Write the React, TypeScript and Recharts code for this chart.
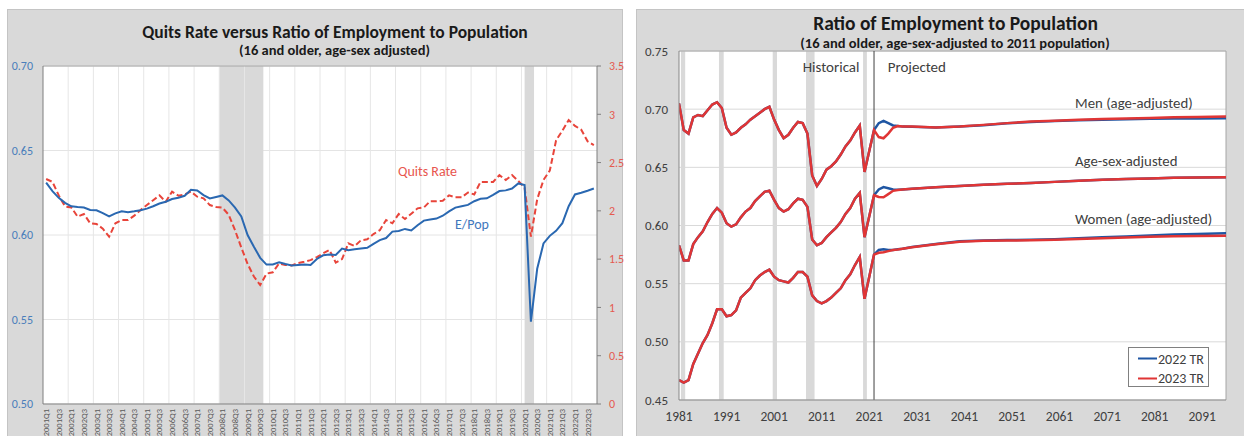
import React from 'react';
import { LineChart, Line, XAxis, YAxis, CartesianGrid, ReferenceArea, ReferenceLine } from 'recharts';

const FONT = 'Carlito, Calibri, Lato, sans-serif';

// ---- left chart: quarterly, 2001Q1..2022Q4
const quarters: string[] = [];
for (let y = 2001; y <= 2022; y++) for (let q = 1; q <= 4; q++) quarters.push(`${y}Q${q}`);

const ePop = [
  0.631, 0.626, 0.622, 0.619, 0.617, 0.6166, 0.6163, 0.6148, 0.6146, 0.613,
  0.611, 0.6128, 0.614, 0.6135, 0.614, 0.6147, 0.6156, 0.617, 0.6186, 0.6197,
  0.6213, 0.622, 0.6232, 0.6267, 0.6263, 0.6236, 0.6216, 0.6225, 0.6234, 0.6205,
  0.6162, 0.611, 0.6, 0.593, 0.5865, 0.5825, 0.5826, 0.5838, 0.5828, 0.582,
  0.5823, 0.5825, 0.5822, 0.5858, 0.588, 0.5885, 0.5882, 0.592, 0.591, 0.5915,
  0.592, 0.5924, 0.5948, 0.597, 0.5982, 0.602, 0.6024, 0.6036, 0.6027, 0.6058,
  0.6085, 0.6092, 0.6097, 0.6114, 0.614, 0.6162, 0.617, 0.6178, 0.62, 0.6214,
  0.6217, 0.6237, 0.626, 0.6264, 0.6275, 0.6305, 0.6295, 0.5487, 0.58, 0.595,
  0.5995, 0.6025, 0.607, 0.617, 0.624, 0.625, 0.6262, 0.6275,
];

const quitsRate = [
  2.33, 2.3, 2.16, 2.045, 2.035, 1.94, 1.967, 1.871, 1.865, 1.815,
  1.733, 1.871, 1.905, 1.905, 1.95, 2.009, 2.06, 2.11, 2.16, 2.095,
  2.199, 2.157, 2.17, 2.199, 2.147, 2.13, 2.06, 2.04, 2.033, 1.96,
  1.8, 1.62, 1.45, 1.32, 1.232, 1.35, 1.364, 1.455, 1.44, 1.435,
  1.46, 1.474, 1.49, 1.52, 1.56, 1.595, 1.465, 1.5, 1.664, 1.636,
  1.695, 1.705, 1.76, 1.8, 1.905, 1.871, 1.967, 1.916, 1.97, 2.026,
  2.035, 2.1, 2.1, 2.105, 2.16, 2.14, 2.14, 2.19, 2.17, 2.3,
  2.3, 2.3, 2.37, 2.32, 2.37, 2.31, 2.24, 1.733, 2.12, 2.32,
  2.416, 2.73, 2.83, 2.94, 2.88, 2.84, 2.72, 2.68,
];

const leftRecessions = [['2008Q1', '2009Q3'], ['2020Q1', '2020Q2']];
const ePopTicks = [0.5, 0.55, 0.6, 0.65, 0.7];
const quitsTicks = [0, 0.5, 1, 1.5, 2, 2.5, 3, 3.5];

const quitsData = quarters.map((q, i) => ({ i, q, ePop: ePop[i], quits: quitsRate[i] }));

// ---- right chart: annual
const histYears: number[] = [];
for (let y = 1981; y <= 2021; y++) histYears.push(y);

const menHist = [
  0.705, 0.682, 0.679, 0.693, 0.695, 0.694, 0.699, 0.704, 0.706, 0.701,
  0.684, 0.678, 0.68, 0.684, 0.687, 0.691, 0.694, 0.697, 0.7, 0.702,
  0.691, 0.682, 0.675, 0.678, 0.684, 0.689, 0.688, 0.679, 0.643, 0.634,
  0.64, 0.648, 0.651, 0.655, 0.661, 0.668, 0.673, 0.68, 0.686, 0.646,
  0.664,
];
const ageSexHist = [
  0.583, 0.57, 0.57, 0.584, 0.59, 0.595, 0.603, 0.61, 0.615, 0.611,
  0.602, 0.599, 0.601, 0.607, 0.612, 0.615, 0.621, 0.625, 0.629, 0.63,
  0.622, 0.615, 0.612, 0.614, 0.619, 0.623, 0.622, 0.616, 0.588, 0.583,
  0.585, 0.59, 0.594, 0.598, 0.603, 0.61, 0.615, 0.623, 0.628, 0.59,
  0.608,
];
const womenHist = [
  0.467, 0.465, 0.467, 0.481, 0.49, 0.499, 0.506, 0.516, 0.528, 0.528,
  0.522, 0.523, 0.527, 0.538, 0.542, 0.546, 0.553, 0.557, 0.56, 0.562,
  0.556, 0.553, 0.552, 0.551, 0.555, 0.56, 0.56, 0.556, 0.54, 0.535,
  0.533, 0.535, 0.538, 0.542, 0.546, 0.553, 0.558, 0.566, 0.573, 0.537,
  0.556,
];

const projYears = [2022, 2023, 2024, 2025, 2026, 2027, 2028, 2030, 2035, 2040, 2045, 2050, 2055, 2060, 2065, 2070, 2075, 2080, 2085, 2090, 2096];
const menTR22 = [0.682, 0.688, 0.69, 0.688, 0.686, 0.6855, 0.685, 0.6848, 0.6842, 0.685, 0.6862, 0.6878, 0.689, 0.6898, 0.6905, 0.691, 0.6913, 0.6917, 0.692, 0.692, 0.6922];
const menTR23 = [0.682, 0.676, 0.675, 0.679, 0.684, 0.6855, 0.6852, 0.685, 0.6842, 0.685, 0.6865, 0.688, 0.6893, 0.69, 0.6908, 0.6915, 0.692, 0.6925, 0.693, 0.6932, 0.6936];
const ageSexTR22 = [0.626, 0.631, 0.633, 0.632, 0.631, 0.6308, 0.631, 0.6315, 0.6328, 0.634, 0.635, 0.6358, 0.6365, 0.6375, 0.6385, 0.6393, 0.64, 0.6405, 0.641, 0.6412, 0.6415];
const ageSexTR23 = [0.626, 0.6245, 0.6243, 0.627, 0.6298, 0.6306, 0.631, 0.6315, 0.6328, 0.634, 0.635, 0.6358, 0.6365, 0.6375, 0.6385, 0.6393, 0.64, 0.6405, 0.641, 0.6412, 0.6415];
const womenTR22 = [0.575, 0.579, 0.5795, 0.579, 0.579, 0.5795, 0.58, 0.5815, 0.584, 0.5865, 0.5872, 0.5875, 0.5878, 0.5882, 0.589, 0.5898, 0.5905, 0.5915, 0.5922, 0.5928, 0.5934];
const womenTR23 = [0.575, 0.5765, 0.577, 0.578, 0.579, 0.5793, 0.58, 0.5813, 0.5838, 0.586, 0.5868, 0.587, 0.5873, 0.5877, 0.5883, 0.589, 0.5897, 0.5903, 0.5907, 0.591, 0.5912];

const rightRecessions = [[1981.4, 1982.3], [1989.4, 1990.4], [2000.7, 2001.6], [2007.7, 2009.5], [2019.7, 2020.5]];
const yearTicks = [1981, 1991, 2001, 2011, 2021, 2031, 2041, 2051, 2061, 2071, 2081, 2091];
const ratioTicks = [0.45, 0.5, 0.55, 0.6, 0.65, 0.7, 0.75];

const series = (hist: number[], proj: number[]) => [
  ...histYears.map((x, k) => ({ x, v: hist[k] })),
  ...projYears.map((x, k) => ({ x, v: proj[k] })).filter((d) => d.x > 2021),
];

const BLUE_L = '#2a68b1';
const RED_L = '#e8443a';
const BLUE_R = '#1f56a3';
const RED_R = '#e03535';

const QuarterTick = (props: any) => {
  const { x, y, payload } = props;
  return (
    <text
      transform={`translate(${x + 3},${y}) rotate(-90)`}
      textAnchor="end"
      fontSize={8.5}
      fill="#595959"
      fontFamily={FONT}
    >
      {quarters[payload.value]}
    </text>
  );
};

function QuitsChart() {
  const qi = (q: string) => quarters.indexOf(q);
  const xTicks = quarters.map((_, i) => i).filter((i) => i % 2 === 0);
  const gridX = quarters.map((_, i) => i).filter((i) => i % 4 === 0 && i > 0).map((i) => i - 0.5);
  return (
    <LineChart width={630} height={436} data={quitsData} margin={{ top: 66, right: 0, bottom: 0, left: 0 }}>
      <CartesianGrid yAxisId="l" vertical={false} stroke="#e4e4e4" fill="#ffffff" fillOpacity={1} />
      {leftRecessions.map(([a, b]) => (
        <ReferenceArea
          key={a}
          yAxisId="l"
          x1={qi(a) - (a === '2020Q1' ? 0 : 0.5)}
          x2={qi(b) + 0.5}
          fill="#d9d9d9"
          fillOpacity={1}
          stroke="none"
        />
      ))}
      {gridX.map((x) => (
        <ReferenceLine key={x} yAxisId="l" x={x} stroke="#e6e6e6" strokeWidth={1} />
      ))}
      <XAxis
        dataKey="i"
        type="number"
        domain={[-0.5, 87.5]}
        ticks={xTicks}
        interval={0}
        tick={<QuarterTick />}
        tickLine={false}
        tickSize={3}
        tickMargin={2}
        height={32}
        axisLine={{ stroke: '#7f7f7f' }}
        allowDataOverflow
      />
      <YAxis
        yAxisId="l"
        domain={[0.5, 0.7]}
        ticks={ePopTicks}
        width={43}
        tickFormatter={(v: number) => v.toFixed(2)}
        tick={{ fill: '#4a7ebb', fontSize: 12, fontFamily: FONT }}
        tickLine={false}
        tickMargin={4}
        axisLine={{ stroke: '#7f7f7f' }}
        allowDataOverflow
      />
      <YAxis
        yAxisId="r"
        orientation="right"
        domain={[0, 3.5]}
        ticks={quitsTicks}
        width={33}
        tick={{ fill: '#e55a50', fontSize: 12, fontFamily: FONT }}
        tickLine={{ stroke: '#7f7f7f' }}
        tickSize={4}
        tickMargin={8}
        axisLine={{ stroke: '#7f7f7f' }}
        allowDataOverflow
      />
      <ReferenceLine yAxisId="l" y={0.7} stroke="#a6a6a6" />
      <Line yAxisId="r" dataKey="quits" stroke={RED_L} strokeWidth={2} strokeDasharray="6 3" dot={false} isAnimationActive={false} />
      <Line yAxisId="l" dataKey="ePop" stroke={BLUE_L} strokeWidth={2} dot={false} isAnimationActive={false} />
    </LineChart>
  );
}

function RatioChart() {
  const groups = [
    { name: 'men', hist: menHist, tr22: menTR22, tr23: menTR23 },
    { name: 'ageSex', hist: ageSexHist, tr22: ageSexTR22, tr23: ageSexTR23 },
    { name: 'women', hist: womenHist, tr22: womenTR22, tr23: womenTR23 },
  ];
  return (
    <LineChart width={608} height={436} margin={{ top: 51, right: 18, bottom: 0, left: 0 }}>
      <CartesianGrid vertical={false} stroke="#d9d9d9" fill="#ffffff" fillOpacity={1} />
      {rightRecessions.map(([a, b]) => (
        <ReferenceArea key={a} x1={a} x2={b} fill="#d9d9d9" fillOpacity={1} stroke="none" />
      ))}
      <XAxis
        dataKey="x"
        type="number"
        domain={[1981, 2096]}
        ticks={yearTicks}
        interval={0}
        height={36}
        tickLine={false}
        tickMargin={5}
        tick={{ fill: '#404040', fontSize: 13.5, fontFamily: FONT }}
        axisLine={{ stroke: '#868686' }}
        allowDataOverflow
      />
      <YAxis
        domain={[0.45, 0.75]}
        ticks={ratioTicks}
        width={43}
        tickFormatter={(v: number) => v.toFixed(2)}
        tick={{ fill: '#404040', fontSize: 13, fontFamily: FONT }}
        tickLine={false}
        tickMargin={5}
        axisLine={{ stroke: '#868686' }}
        allowDataOverflow
      />
      <ReferenceLine y={0.75} stroke="#a6a6a6" />
      <ReferenceLine x={2096} stroke="#a6a6a6" />
      <ReferenceLine x={2022} stroke="#404040" />
      {groups.map((g) => (
        <Line
          key={g.name + '22'}
          data={series(g.hist, g.tr22)}
          dataKey="v"
          stroke={BLUE_R}
          strokeWidth={2.5}
          dot={false}
          isAnimationActive={false}
        />
      ))}
      {groups.map((g) => (
        <Line
          key={g.name + '23'}
          data={series(g.hist, g.tr23)}
          dataKey="v"
          stroke={RED_R}
          strokeWidth={2.5}
          dot={false}
          isAnimationActive={false}
        />
      ))}
    </LineChart>
  );
}

const abs = (left: number, top: number, extra: React.CSSProperties = {}): React.CSSProperties => ({
  position: 'absolute',
  left,
  top,
  whiteSpace: 'nowrap',
  ...extra,
});

export default function App() {
  const centered = { transform: 'translate(-50%, -50%)' };
  const leftMid = { transform: 'translateY(-50%)' };
  return (
    <div
      style={{
        position: 'absolute',
        left: 0,
        top: 0,
        width: 1244,
        height: 436,
        overflow: 'hidden',
        background: '#ffffff',
        fontFamily: FONT,
      }}
    >
      <div style={abs(7, 9, { width: 616, height: 440, background: '#d9d9d9', border: '1px solid #c4c4c4', boxSizing: 'border-box' })} />
      <div style={abs(636, 9, { width: 620, height: 440, background: '#d9d9d9', border: '1px solid #c4c4c4', boxSizing: 'border-box' })} />

      <div style={abs(0, 0)}>
        <QuitsChart />
      </div>
      <div style={abs(636, 0)}>
        <RatioChart />
      </div>

      <div style={abs(335, 31.5, { ...centered, fontSize: 17.5, fontWeight: 700, color: '#1a1a1a' })}>
        Quits Rate versus Ratio of Employment to Population
      </div>
      <div style={abs(334.5, 50, { ...centered, fontSize: 14.5, fontWeight: 700, color: '#1a1a1a' })}>
        (16 and older, age-sex adjusted)
      </div>
      <div style={abs(398, 170.7, { ...leftMid, fontSize: 14, color: '#e8564e' })}>Quits Rate</div>
      <div style={abs(455, 224, { ...leftMid, fontSize: 14, color: '#3f78bd' })}>E/Pop</div>

      <div style={abs(955.5, 23.3, { ...centered, fontSize: 19.5, fontWeight: 700, color: '#1a1a1a' })}>
        Ratio of Employment to Population
      </div>
      <div style={abs(955, 42.7, { ...centered, fontSize: 14.5, fontWeight: 700, color: '#1a1a1a' })}>
        (16 and older, age-sex-adjusted to 2011 population)
      </div>
      <div style={abs(802.7, 67, { ...leftMid, fontSize: 15, color: '#404040' })}>Historical</div>
      <div style={abs(887.7, 67, { ...leftMid, fontSize: 15, color: '#404040' })}>Projected</div>
      <div style={abs(1075, 102.7, { ...leftMid, fontSize: 14.8, color: '#404040' })}>Men (age-adjusted)</div>
      <div style={abs(1075, 161, { ...leftMid, fontSize: 14.8, color: '#404040' })}>Age-sex-adjusted</div>
      <div style={abs(1075, 219.3, { ...leftMid, fontSize: 14.8, color: '#404040' })}>Women (age-adjusted)</div>

      <div
        style={abs(1128, 347, {
          width: 81,
          height: 40,
          background: '#ffffff',
          border: '1px solid #808080',
          boxSizing: 'border-box',
        })}
      >
        {[
          { label: '2022 TR', color: BLUE_R, cy: 10.7 },
          { label: '2023 TR', color: RED_R, cy: 30.3 },
        ].map((e) => (
          <div key={e.label} style={abs(9, e.cy, { ...leftMid, display: 'flex', alignItems: 'center', fontSize: 14, color: '#404040' })}>
            <span style={{ display: 'inline-block', width: 19, height: 2, background: e.color, marginRight: 1 }} />
            {e.label}
          </div>
        ))}
      </div>
    </div>
  );
}
